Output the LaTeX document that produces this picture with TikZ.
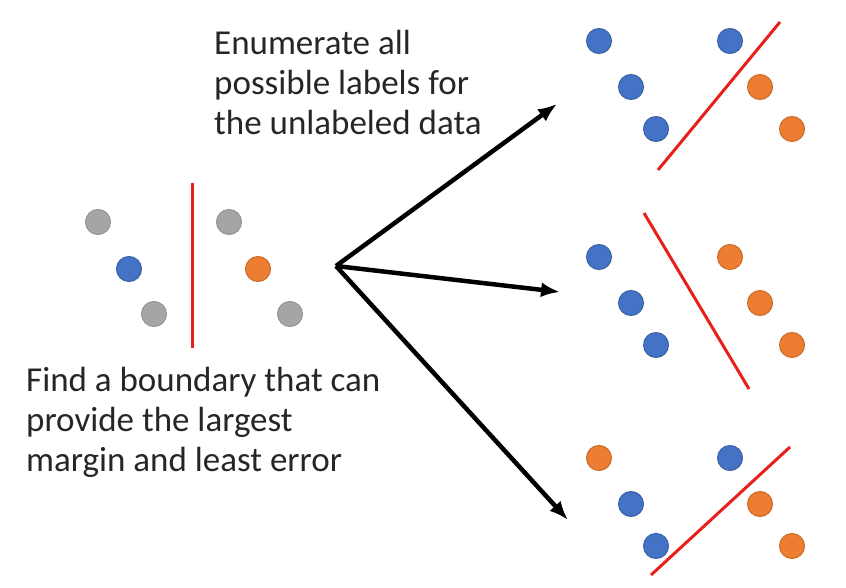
\documentclass[tikz,border=0pt]{standalone}
\usepackage{fontspec}
\setmainfont{Carlito}
\usepackage{xcolor}
\definecolor{dotblue}{RGB}{68,114,196}
\definecolor{dotorange}{RGB}{237,125,49}
\definecolor{dotgray}{RGB}{165,165,165}
\definecolor{bound}{RGB}{232,32,28}
\usepackage{tikz}
\usetikzlibrary{arrows.meta}
\tikzstyle{dot} = [
    circle, inner sep=0pt,
    minimum size=25pt,
    line width=1pt,
]
\tikzstyle{bdot} = [
    dot,
    fill=dotblue,
    draw=dotblue!85!black,
]
\tikzstyle{odot} = [
    dot,
    fill=dotorange,
    draw=dotorange!85!black,
]
\tikzstyle{gdot} = [
    dot,
    fill=dotgray,
    draw=dotgray!90!black,
]
\tikzstyle{boundary} = [bound, line width=3pt]
\tikzstyle{arrow} = [-{Latex[length=19pt,width=15pt]}, line width=4.5pt]
\tikzstyle{caption} = [
    align=left, inner sep=0pt,
    text=black!85,
    font=\fontsize{35}{40}\selectfont,
]

\begin{document}
\begin{tikzpicture}[x=1pt,y=-1pt]
    \useasboundingbox (0,0) rectangle (846,588);

    % unlabeled data
    \foreach \n/\x/\y/\s in {l1/98/222/gdot, l2/129/269/bdot, l3/154/314/gdot,
                             l4/229/222/gdot, l5/258/269/odot, l6/290/314/gdot} {
        \node (\n) at (\x,\y) [\s] {};
    }
    \draw [boundary] (192,183) -- (192,348);

    % labelings
    \foreach \g/\by/\ca/\cb/\cc/\cd/\ce/\cf in {a/41/bdot/bdot/bdot/bdot/odot/odot,
                                               b/257/bdot/bdot/bdot/odot/odot/odot,
                                               c/458/odot/bdot/bdot/bdot/odot/odot} {
        \node (\g1) at (599,\by) [\ca] {};
        \node (\g2) at (631,\by+46) [\cb] {};
        \node (\g3) at (656,\by+88) [\cc] {};
        \node (\g4) at (730,\by) [\cd] {};
        \node (\g5) at (760,\by+46) [\ce] {};
        \node (\g6) at (792,\by+88) [\cf] {};
    }
    \draw [boundary] (658,170) -- (780,22);
    \draw [boundary] (644,213) -- (749,389);
    \draw [boundary] (651,575) -- (790,447);

    % arrows
    \coordinate (src) at (336,266);
    \coordinate (tipa) at (557,104);
    \coordinate (tipb) at (560,292);
    \coordinate (tipc) at (568,520);
    \foreach \t in {tipa,tipb,tipc} {
        \draw [arrow] (src) to (\t);
    }

    % texts
    \node (enum) at (214,30) [caption, anchor=north west]
        {Enumerate all\\possible labels for\\the unlabeled data};
    \node (find) at (26,367) [caption, anchor=north west]
        {Find a boundary that can\\provide the largest\\margin and least error};
\end{tikzpicture}
\end{document}
